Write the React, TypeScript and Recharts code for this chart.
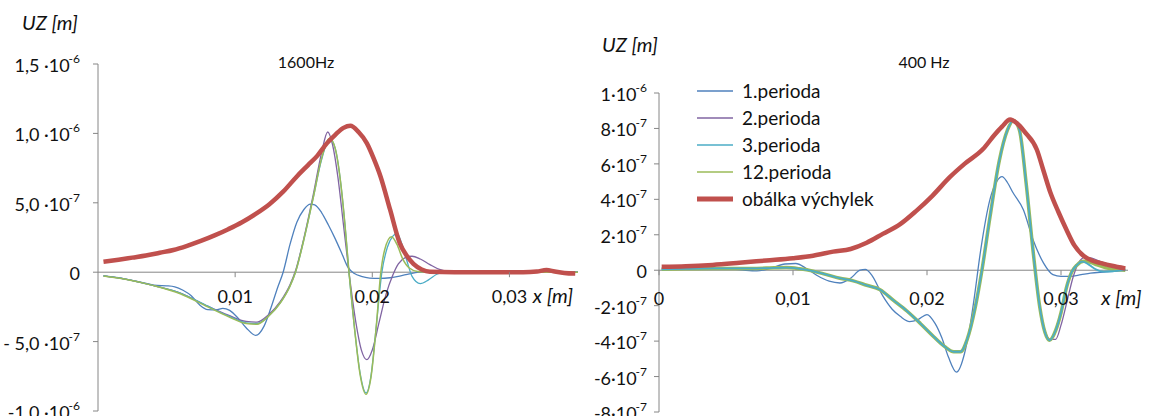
import React from 'react';
import { LineChart, Line, XAxis, YAxis, ReferenceLine, ReferenceDot, Legend } from 'recharts';

// values: x in mm, UZ in 1e-7 m
const blue1600 = [[0.4,-0.27],[1.5,-0.4],[2.5,-0.6],[3.5,-0.8],[4.3,-0.95],[5.0,-0.98],[5.6,-1.05],[6.2,-1.3],[6.8,-1.7],[7.4,-2.35],[8.0,-2.7],[8.6,-2.72],[9.1,-2.6],[9.6,-2.75],[10.2,-3.3],[10.8,-4.0],[11.5,-4.55],[12.1,-3.9],[12.6,-2.6],[13.1,-1.1],[13.5,0],[14.0,2.0],[14.5,3.6],[15.0,4.5],[15.5,4.9],[15.8,4.85],[16.3,4.3],[16.8,3.4],[17.3,2.4],[17.8,1.3],[18.2,0.4],[18.7,-0.1],[19.2,-0.3],[19.8,-0.42],[20.5,-0.45],[21.3,-0.4],[22.0,-0.28],[22.7,-0.12],[23.4,0],[24.5,0.05],[26,0.1],[27.5,0.1],[28.5,0],[35,0]];
const purple1600 = [[0.4,-0.27],[2,-0.5],[4,-0.95],[6,-1.5],[8,-2.45],[9.5,-3.1],[10.8,-3.55],[11.6,-3.6],[12.4,-3.1],[13.3,-2.1],[14.0,-0.9],[14.4,0.1],[15.0,2.4],[15.7,5.6],[16.3,8.6],[16.75,10.1],[17.1,9.2],[17.5,6.8],[17.9,3.4],[18.3,0],[18.8,-3.6],[19.2,-5.6],[19.6,-6.3],[20.0,-5.6],[20.5,-3.6],[21.0,-1.6],[21.5,-0.2],[21.9,0.6],[22.4,1.05],[22.9,1.15],[23.5,0.95],[24.2,0.55],[24.9,0.2],[25.6,0.05],[26.5,0],[35,0]];
const cyan1600 = [[0.4,-0.27],[2,-0.5],[4,-0.95],[6,-1.5],[8,-2.45],[9.5,-3.15],[10.8,-3.65],[11.6,-3.7],[12.4,-3.2],[13.3,-2.2],[14.0,-1.0],[14.4,0],[15.0,2.3],[15.7,5.4],[16.3,8.1],[16.9,9.6],[17.3,8.9],[17.7,6.4],[18.0,3.5],[18.3,0],[18.7,-4.0],[19.1,-7.2],[19.55,-8.7],[19.9,-7.5],[20.3,-3.8],[20.7,0],[21.1,1.8],[21.5,2.6],[21.8,2.8],[22.1,2.2],[22.5,0.9],[22.9,-0.3],[23.5,-0.82],[24.1,-0.55],[24.7,-0.15],[25.3,0.02],[26,0.1],[27.5,0.1],[28.5,0],[35,0]];
const green1600 = [[0.4,-0.27],[2,-0.5],[4,-0.95],[6,-1.55],[8,-2.5],[9.5,-3.2],[10.8,-3.7],[11.6,-3.75],[12.4,-3.2],[13.3,-2.2],[14.0,-1.0],[14.4,0],[15.0,2.3],[15.7,5.4],[16.3,8.2],[16.9,9.65],[17.3,8.9],[17.7,6.4],[18.0,3.5],[18.3,0],[18.7,-4.0],[19.1,-7.3],[19.55,-8.8],[19.9,-7.6],[20.3,-3.8],[20.6,-0.2],[20.9,1.6],[21.4,2.55],[21.8,2.0],[22.2,1.0],[22.7,0.3],[23.3,0.05],[24,0],[35,0]];
const red1600 = [[0.4,0.75],[1.5,0.9],[2.5,1.05],[3.5,1.2],[4.5,1.4],[5.5,1.6],[6.5,1.9],[7.5,2.25],[8.5,2.65],[9.5,3.1],[10.5,3.6],[11.5,4.2],[12.5,4.9],[13.5,5.8],[14.5,6.9],[15.3,7.7],[16.0,8.4],[16.7,9.3],[17.3,9.9],[17.9,10.4],[18.4,10.55],[19.0,10.1],[19.6,9.3],[20.1,8.2],[20.6,6.9],[21.3,4.5],[22.0,2.1],[22.5,1.2],[23.0,0.6],[23.6,0.2],[24.2,0.03],[26,0],[31,0],[32,0.05],[32.7,0.15],[33.3,0.05],[34,-0.05],[34.8,-0.1]];

const blue400 = [[0.2,0.12],[2,0.12],[4,0.1],[6,0.03],[7.3,-0.04],[8.3,0.1],[9.4,0.35],[10.2,0.38],[11.0,0.1],[11.8,-0.3],[12.7,-0.62],[13.5,-0.72],[14.3,-0.45],[15.0,0.0],[15.4,0.05],[15.9,-0.3],[16.7,-1.45],[17.4,-2.2],[18.0,-2.6],[18.7,-2.9],[19.3,-2.8],[20.0,-2.5],[20.6,-3.0],[21.1,-3.8],[21.6,-4.9],[22.2,-5.75],[22.8,-4.7],[23.2,-3.2],[23.5,-1.7],[24.0,1.1],[24.7,4.0],[25.2,5.0],[25.6,5.28],[26.0,4.95],[26.4,4.4],[27.2,3.4],[27.9,1.75],[28.7,0.4],[29.4,-0.25],[30.0,-0.35],[30.7,-0.35],[31.5,-0.25],[32.2,-0.16],[33.2,-0.1],[34.2,-0.05],[34.8,0]];
const purple400 = [[0.2,0.05],[2,0.08],[4,0.1],[6,0.08],[8,0.1],[9.5,0.15],[10.5,0.08],[11.5,-0.05],[12.5,-0.25],[13.5,-0.45],[14.5,-0.6],[15.5,-0.85],[16.5,-1.1],[17.5,-1.7],[18.5,-2.3],[19.5,-3.0],[20.5,-3.75],[21.3,-4.3],[22.0,-4.6],[22.5,-4.6],[23.0,-3.9],[23.6,-2.1],[24.1,0],[24.7,3.0],[25.4,6.2],[26.0,7.9],[26.45,8.45],[26.9,7.9],[27.4,4.9],[27.9,1.2],[28.4,-2.0],[28.8,-3.4],[29.2,-3.9],[29.6,-3.9],[30.0,-3.1],[30.5,-1.6],[30.9,-0.4],[31.3,0.4],[31.8,0.72],[32.3,0.68],[32.9,0.5],[33.5,0.35],[34.1,0.2],[34.8,0.05]];
const cyan400 = [[0.2,0.05],[2,0.08],[4,0.1],[6,0.1],[8,0.12],[9.5,0.15],[10.5,0.08],[11.5,-0.05],[12.5,-0.25],[13.5,-0.45],[14.5,-0.6],[15.5,-0.85],[16.5,-1.1],[17.5,-1.7],[18.5,-2.3],[19.5,-3.0],[20.5,-3.75],[21.3,-4.3],[22.0,-4.6],[22.5,-4.6],[23.0,-3.9],[23.6,-2.1],[24.1,0],[24.7,3.0],[25.4,6.2],[26.0,7.9],[26.45,8.45],[26.9,7.9],[27.4,4.9],[27.9,1.2],[28.4,-2.0],[28.8,-3.5],[29.15,-3.95],[29.6,-3.4],[30.0,-2.4],[30.4,-1.0],[30.8,-0.1],[31.2,0.3],[31.6,0.48],[32.1,0.3],[32.6,0.05],[33.2,-0.08],[34.0,-0.05],[34.8,0]];
const green400 = [[0.2,0.05],[2,0.08],[4,0.1],[6,0.1],[8,0.12],[9.5,0.15],[10.5,0.08],[11.5,-0.05],[12.5,-0.25],[13.5,-0.45],[14.5,-0.6],[15.5,-0.85],[16.5,-1.1],[17.5,-1.7],[18.5,-2.3],[19.5,-3.0],[20.5,-3.75],[21.3,-4.3],[22.0,-4.6],[22.5,-4.6],[23.0,-3.9],[23.6,-2.1],[24.1,0],[24.7,3.0],[25.4,6.2],[26.0,7.9],[26.45,8.45],[26.9,7.9],[27.4,4.9],[27.9,1.2],[28.4,-2.0],[28.8,-3.5],[29.15,-3.95],[29.6,-3.4],[30.0,-2.4],[30.4,-1.0],[30.8,-0.1],[31.2,0.3],[31.7,0.5],[32.2,0.45],[32.7,0.3],[33.3,0.15],[33.9,0.05],[34.8,0]];
const red400 = [[0.2,0.19],[2,0.22],[4,0.3],[6,0.42],[8,0.55],[10,0.68],[11.5,0.82],[13,1.05],[14.3,1.2],[15.5,1.55],[16.7,2.05],[18,2.6],[19.2,3.35],[20.4,4.2],[21.7,5.25],[22.8,6.0],[24.2,6.85],[25.0,7.6],[25.6,8.1],[26.2,8.5],[26.7,8.3],[27.3,7.8],[28.2,6.8],[28.7,5.6],[29.2,4.4],[29.8,3.3],[30.4,2.3],[31.0,1.4],[31.7,0.8],[32.3,0.55],[33.0,0.4],[33.8,0.25],[34.8,0.1]];

const seriesNames = ['1.perioda', '2.perioda', '3.perioda', '12.perioda', 'obálka výchylek'];
const seriesColors = ['#4F81BD', '#8064A2', '#4BACC6', '#9BBB59', '#C0504D'];

const yTicks1600 = [-1e-6, -5e-7, 0, 5e-7, 1e-6, 1.5e-6];
const yLabels1600 = ['-1,0 ·10^-6', '- 5,0 ·10^-7', '0', '5,0 ·10^-7', '1,0 ·10^-6', '1,5 ·10^-6'];
const yTicks400 = [-8e-7, -6e-7, -4e-7, -2e-7, 0, 2e-7, 4e-7, 6e-7, 8e-7, 1e-6];
const yLabels400 = ['-8·10^-7', '-6·10^-7', '-4·10^-7', '-2·10^-7', '0', '2·10^-7', '4·10^-7', '6·10^-7', '8·10^-7', '1·10^-6'];
const xTicks1600 = [0.01, 0.02, 0.03];
const xLabels1600 = ['0,01', '0,02', '0,03'];
const xTicks400 = [0, 0.01, 0.02, 0.03];
const xLabels400 = ['0', '0,01', '0,02', '0,03'];

const FONT = "Lato, 'Open Sans', sans-serif";
const TEXT = '#111';
const AXIS = '#868686';

const toPoints = (pts: number[][]) => pts.map(([x, y]) => ({ x: x / 1000, y: y * 1e-7 }));

type Series = { idx: number; data: number[][]; width: number };

const makeYTick = (ticks: number[], labels: string[]) => (props: any) => {
  const { x, y, payload } = props;
  const i = ticks.findIndex((t) => Math.abs(t - payload.value) < 1e-12);
  const [base, exp] = (labels[i] ?? '').split('^');
  return (
    <text x={x} y={y} dy={8} textAnchor="end" fontSize={18} fill={TEXT} fontFamily={FONT}>
      {base}
      {exp && <tspan dx={-1} dy={-9} fontSize={12}>{exp}</tspan>}
    </text>
  );
};

const legendWidths: Record<string, number> = { 'obálka výchylek': 5 };

const LegendContent = (props: any) => {
  const items = [...(props.payload || [])].sort(
    (a: any, b: any) => seriesNames.indexOf(a.value) - seriesNames.indexOf(b.value)
  );
  return (
    <div style={{ fontFamily: FONT }}>
      {items.map((entry: any) => (
        <div key={entry.value} style={{ display: 'flex', alignItems: 'center', height: 27 }}>
          <svg width={36} height={10}>
            <line x1={0} y1={5} x2={36} y2={5} stroke={entry.color} strokeWidth={legendWidths[entry.value] ?? 1.5} />
          </svg>
          <span style={{ marginLeft: 9, fontSize: 19, color: TEXT, whiteSpace: 'nowrap' }}>{entry.value}</span>
        </div>
      ))}
    </div>
  );
};

type PanelProps = {
  left: number;
  width: number;
  margin: { top: number; right: number; bottom: number; left: number };
  yDomain: [number, number];
  yTicks: number[];
  yLabels: string[];
  yAxisWidth: number;
  yTickMargin: number;
  xTicks: number[];
  xLabels: string[];
  xLabelDy: number;
  axisTitleAt: number;
  series: Series[];
  legend?: boolean;
};

const Panel = (p: PanelProps) => (
  <div style={{ position: 'absolute', left: p.left, top: 0 }}>
    <LineChart width={p.width} height={416} margin={p.margin}>
      <XAxis type="number" dataKey="x" domain={[0, 0.035]} hide />
      <YAxis
        type="number"
        dataKey="y"
        domain={p.yDomain}
        ticks={p.yTicks}
        width={p.yAxisWidth}
        stroke={AXIS}
        tickSize={5}
        tickMargin={p.yTickMargin}
        tick={makeYTick(p.yTicks, p.yLabels)}
        interval={0}
      />
      <ReferenceLine y={0} stroke={AXIS} strokeWidth={1} />
      {p.series.map((s) => (
        <Line
          key={s.idx}
          data={toPoints(s.data)}
          dataKey="y"
          name={seriesNames[s.idx]}
          type="monotone"
          stroke={seriesColors[s.idx]}
          strokeWidth={s.width}
          dot={false}
          activeDot={false}
          isAnimationActive={false}
        />
      ))}
      {p.xTicks.map((t, i) => (
        <ReferenceDot
          key={t}
          x={t}
          y={0}
          ifOverflow="visible"
          shape={(d: any) => (
            <g>
              <line x1={d.cx} y1={d.cy} x2={d.cx} y2={d.cy + 5} stroke={AXIS} />
              <text x={d.cx} y={d.cy + p.xLabelDy} textAnchor="middle" fontSize={18} fill={TEXT} fontFamily={FONT}>
                {p.xLabels[i]}
              </text>
            </g>
          )}
        />
      ))}
      <ReferenceDot
        x={p.axisTitleAt}
        y={0}
        ifOverflow="visible"
        shape={(d: any) => (
          <text x={d.cx} y={d.cy + p.xLabelDy} fontSize={20} fontStyle="italic" fill={TEXT} fontFamily={FONT}>
            x [m]
          </text>
        )}
      />
      {p.legend && (
        <Legend
          layout="vertical"
          align="center"
          verticalAlign="middle"
          wrapperStyle={{ left: 122, top: 77 }}
          content={<LegendContent />}
        />
      )}
    </LineChart>
  </div>
);

const textAt = (left: number, top: number, extra: React.CSSProperties = {}): React.CSSProperties => ({
  position: 'absolute',
  left,
  top,
  lineHeight: 1,
  fontFamily: FONT,
  color: TEXT,
  whiteSpace: 'nowrap',
  ...extra,
});

export default function App() {
  return (
    <div style={{ position: 'absolute', left: 0, top: 0, width: 1151, height: 416, background: '#fff', overflow: 'hidden' }}>
      <Panel
        left={0}
        width={580}
        margin={{ top: 64, right: 2, bottom: 5, left: 8 }}
        yDomain={[-1e-6, 1.5e-6]}
        yTicks={yTicks1600}
        yLabels={yLabels1600}
        yAxisWidth={90}
        yTickMargin={13}
        xTicks={xTicks1600}
        xLabels={xLabels1600}
        xLabelDy={31}
        axisTitleAt={0.0317}
        series={[
          { idx: 0, data: blue1600, width: 1.3 },
          { idx: 1, data: purple1600, width: 1.3 },
          { idx: 2, data: cyan1600, width: 1.3 },
          { idx: 3, data: green1600, width: 1.5 },
          { idx: 4, data: red1600, width: 4.5 },
        ]}
      />
      <Panel
        left={575}
        width={576}
        margin={{ top: 93, right: 23, bottom: 4, left: 4 }}
        yDomain={[-8e-7, 1e-6]}
        yTicks={yTicks400}
        yLabels={yLabels400}
        yAxisWidth={80}
        yTickMargin={7}
        xTicks={xTicks400}
        xLabels={xLabels400}
        xLabelDy={35}
        axisTitleAt={0.033}
        series={[
          { idx: 0, data: blue400, width: 1.3 },
          { idx: 1, data: purple400, width: 1.3 },
          { idx: 3, data: green400, width: 3.5 },
          { idx: 2, data: cyan400, width: 1.8 },
          { idx: 4, data: red400, width: 4.5 },
        ]}
        legend
      />
      <div style={textAt(22, 12, { fontSize: 20, fontStyle: 'italic' })}>UZ [m]</div>
      <div style={textAt(602, 34, { fontSize: 20, fontStyle: 'italic' })}>UZ [m]</div>
      <div style={textAt(306, 62, { fontSize: 16, transform: 'translate(-50%, -50%)' })}>1600Hz</div>
      <div style={textAt(924, 62, { fontSize: 16, transform: 'translate(-50%, -50%)' })}>400 Hz</div>
    </div>
  );
}
